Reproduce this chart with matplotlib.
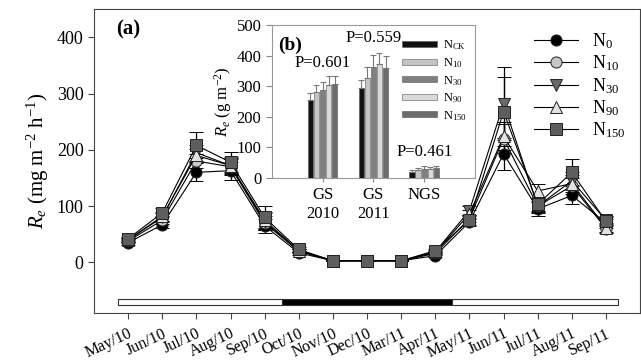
import numpy as np
import matplotlib
matplotlib.use("Agg")
import matplotlib.pyplot as plt
from matplotlib.lines import Line2D

plt.rcParams['font.family'] = ['Liberation Serif', 'DejaVu Serif']
plt.rcParams['mathtext.fontset'] = 'custom'
plt.rcParams['mathtext.rm'] = 'Liberation Serif'
plt.rcParams['mathtext.it'] = 'Liberation Serif:italic'

# ---- monthly Re (a) ----
months = ["May/10", "Jun/10", "Jul/10", "Aug/10", "Sep/10", "Oct/10", "Nov/10", "Dec/10",
          "Mar/11", "Apr/11", "May/11", "Jun/11", "Jul/11", "Aug/11", "Sep/11"]
n0   = [35, 67, 160, 163, 65, 17, 3, 3, 3, 12, 72, 193, 95, 119, 70]
n10  = [38, 75, 180, 170, 70, 20, 3, 3, 3, 16, 78, 220, 100, 136, 60]
n30  = [40, 80, 195, 172, 72, 21, 3, 3, 3, 19, 92, 282, 100, 145, 75]
n90  = [40, 82, 190, 172, 75, 21, 3, 3, 3, 18, 86, 224, 127, 140, 62]
n150 = [42, 88, 208, 178, 80, 23, 3, 3, 3, 21, 75, 268, 103, 160, 73]
e0   = [4, 6, 16, 16, 12, 3, 1, 1, 1, 3, 7, 28, 12, 16, 8]
e10  = [4, 7, 12, 14, 12, 3, 1, 1, 1, 3, 7, 25, 10, 14, 8]
e30  = [4, 8, 14, 15, 15, 3, 1, 1, 1, 3, 8, 65, 12, 16, 8]
e90  = [4, 8, 12, 14, 14, 3, 1, 1, 1, 3, 8, 25, 12, 15, 8]
e150 = [4, 8, 23, 18, 20, 4, 1, 1, 1, 3, 8, 62, 12, 23, 8]

# growing / non-growing season bar
season_start = [-0.3, 4.5, 9.5]
season_end   = [4.5, 9.5, 14.35]
season_fill  = ["white", "black", "white"]

# ---- seasonal totals (b) ----
groups = ["GS\n2010", "GS\n2011", "NGS"]
bar_labels = [r"$\mathregular{N_{CK}}$", r"$\mathregular{N_{10}}$", r"$\mathregular{N_{30}}$",
              r"$\mathregular{N_{90}}$", r"$\mathregular{N_{150}}$"]
bar_vals = [[256, 294, 20], [280, 327, 27], [288, 363, 31], [304, 373, 30], [307, 358, 33]]
bar_errs = [[22, 27, 5], [23, 35, 6], [26, 38, 7], [30, 36, 5], [27, 40, 5]]
p_text = ["P=0.601", "P=0.559", "P=0.461"]
p_y    = [377, 456, 86]

fig = plt.figure(figsize=(6.41, 3.62), dpi=100)
ax = fig.add_axes([0.1466, 0.135, 0.852, 0.84])

x = np.arange(len(months))
series = [
    (n0,   e0,   r"$\mathregular{N_{0}}$",   "o", "black"),
    (n10,  e10,  r"$\mathregular{N_{10}}$",  "o", "#c8c8c8"),
    (n30,  e30,  r"$\mathregular{N_{30}}$",  "v", "#6a6a6a"),
    (n90,  e90,  r"$\mathregular{N_{90}}$",  "^", "#e2e2e2"),
    (n150, e150, r"$\mathregular{N_{150}}$", "s", "#5e5e5e"),
]
handles = []
for vals, errs, lab, mk, fc in series:
    ax.errorbar(x, vals, yerr=errs, color="black", lw=0.8, marker=mk, ms=8,
                mfc=fc, mec="#222222", mew=0.7, ecolor="black", elinewidth=0.9,
                capsize=5, capthick=0.9)
    handles.append(Line2D([], [], color="black", lw=0.8, marker=mk, ms=8,
                          mfc=fc, mec="#222222", mew=0.7, label=lab))

for s, e, c in zip(season_start, season_end, season_fill):
    ax.barh(-70, e - s, left=s, height=11, color=c, edgecolor="#333333", lw=0.8)

ax.set_xlim(-1, 15)
ax.set_ylim(-90, 450)
ax.set_yticks([0, 100, 200, 300, 400])
ax.set_xticks(x)
ax.set_xticklabels(months, rotation=25, ha="right", rotation_mode="anchor", fontsize=11.5)
ax.tick_params(axis="y", labelsize=13, length=4, color="#444444")
ax.tick_params(axis="x", length=4, color="#444444", pad=5)
for sp in ax.spines.values():
    sp.set_color("#444444")
ax.set_ylabel(r"$R_e$ (mg m$^{-2}$ h$^{-1}$)", fontsize=15, labelpad=4)
ax.text(0.04, 0.915, "(a)", transform=ax.transAxes, fontsize=15, fontweight="bold")

ax.legend(handles=handles, loc="upper right", bbox_to_anchor=(1.0, 0.975), frameon=False,
          fontsize=13, handlelength=2.4, labelspacing=0.15, handletextpad=0.8,
          borderaxespad=0.4)

# ---- inset ----
ins = fig.add_axes([0.424, 0.508, 0.317, 0.423])
gx = np.arange(1, len(groups) + 1)
bar_colors = ["#111111", "#c4c4c4", "#808080", "#dadada", "#6c6c6c"]
bw = 0.105
for i, (vals, errs, lab, c) in enumerate(zip(bar_vals, bar_errs, bar_labels, bar_colors)):
    ins.bar(gx + (i - 2) * 0.12, vals, width=bw, color=c, edgecolor="#555555", lw=0.4,
            yerr=[np.zeros(len(errs)), errs], error_kw=dict(ecolor="#777777", elinewidth=0.8,
                                                            capsize=2, capthick=0.8),
            label=lab)
for g, t, py in zip(gx, p_text, p_y):
    ins.text(g, py, t, ha="center", va="center", fontsize=12)
ins.set_xlim(0, 4)
ins.set_ylim(0, 500)
ins.set_xticks(gx)
ins.set_xticklabels(groups, fontsize=12)
ins.set_yticks([0, 100, 200, 300, 400, 500])
ins.tick_params(axis="y", labelsize=12, length=4, color="#888888")
ins.tick_params(axis="x", length=3, color="#888888")
for sp in ins.spines.values():
    sp.set_color("#999999")
ins.set_ylabel(r"$R_e$ (g m$^{-2}$)", fontsize=12, labelpad=2)
ins.text(0.03, 0.84, "(b)", transform=ins.transAxes, fontsize=14, fontweight="bold")
ins.legend(loc="upper right", bbox_to_anchor=(1.0, 0.96), frameon=False, fontsize=9,
           handlelength=2.8, handleheight=0.4, labelspacing=0.3, handletextpad=0.5,
           borderaxespad=0.2)

fig.savefig("out.png", dpi=100)
